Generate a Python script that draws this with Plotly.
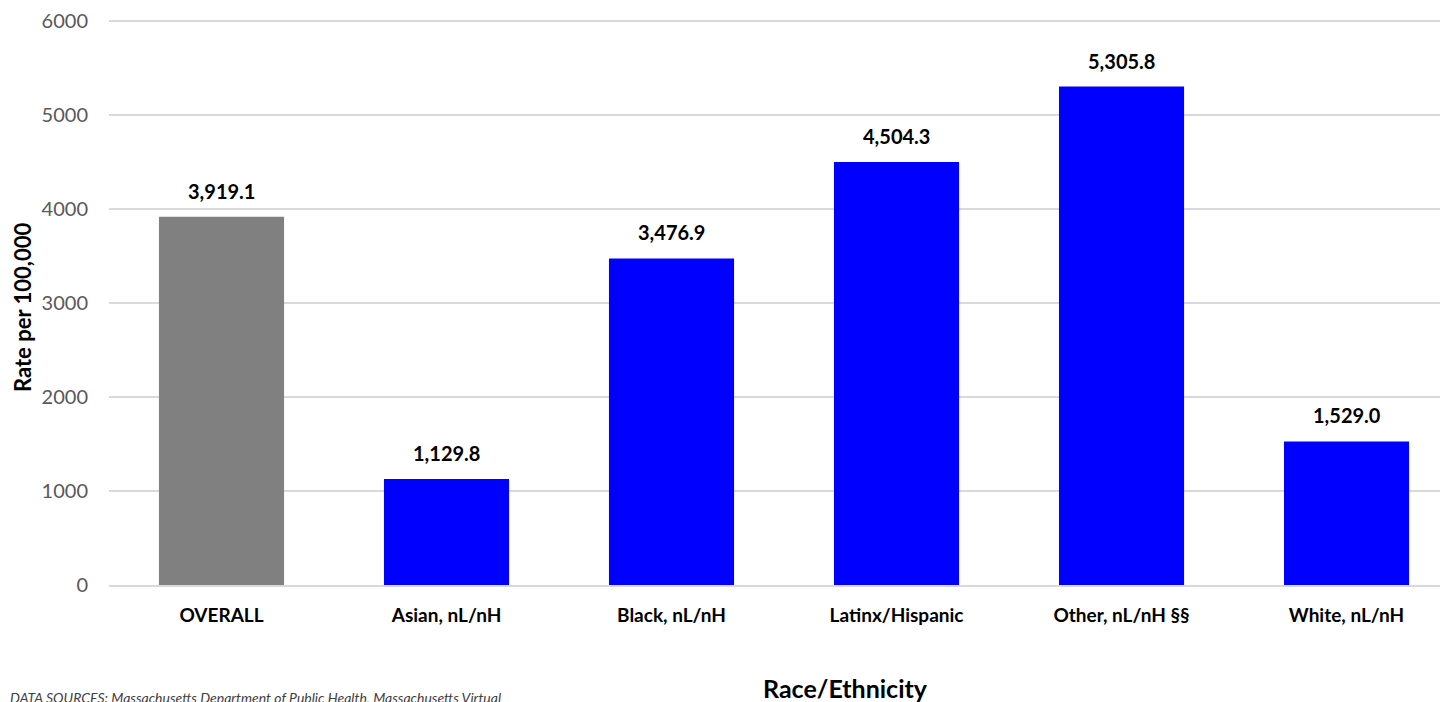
import plotly.graph_objects as go

categories = ["OVERALL", "Asian, nL/nH", "Black, nL/nH", "Latinx/Hispanic", "Other, nL/nH §§", "White, nL/nH"]
values = [3919.1, 1129.8, 3476.9, 4504.3, 5305.8, 1529.0]
bar_colors = ["#808080", "#0000FF", "#0000FF", "#0000FF", "#0000FF", "#0000FF"]
value_labels = [f"{v:,.1f}" for v in values]
y_ticks = [0, 1000, 2000, 3000, 4000, 5000, 6000]

FONT = "Lato"

# browser body margin is 8px: figure is sized so that the page is exactly 1448x702
W, H = 1440, 694
L, T, PW, PH = 101, 12, 1339, 565

fig = go.Figure(
    go.Bar(
        x=categories,
        y=values,
        marker=dict(color=bar_colors, line=dict(width=0)),
        hoverinfo="x+y",
    )
)

for c, v, lab in zip(categories, values, value_labels):
    fig.add_annotation(
        x=c, y=v, text=f"<b>{lab}</b>",
        showarrow=False, xanchor="center", yanchor="bottom", yshift=12,
        font=dict(family=FONT, size=20, color="#000000"),
    )

fig.update_layout(
    width=W,
    height=H,
    margin=dict(l=L, r=W - L - PW, t=T, b=H - T - PH, pad=0),
    paper_bgcolor="white",
    plot_bgcolor="white",
    bargap=0.444,
    showlegend=False,
    font=dict(family=FONT),
)

fig.update_yaxes(
    range=[0, 6015],
    tickvals=y_ticks,
    ticktext=[str(t) for t in y_ticks],
    tickfont=dict(family=FONT, size=20, color="#595959"),
    showgrid=True,
    gridcolor="#D9D9D9",
    gridwidth=1.5,
    zeroline=False,
    showline=False,
    ticks="",
    ticklabelstandoff=20,
)

fig.update_xaxes(
    range=[-0.5, 5.451],
    tickfont=dict(family=FONT, size=19, color="#000000", weight="bold"),
    showline=True,
    linecolor="#D9D9D9",
    linewidth=1.5,
    ticks="",
    ticklabelstandoff=12,
)

def px_x(p):
    return (p - 8 - L) / PW

def px_y(p):
    return (T + PH - (p - 8)) / PH

fig.add_annotation(
    text="<b>Rate per 100,000</b>",
    xref="paper", yref="paper",
    x=px_x(22), y=px_y(308),
    xanchor="center", yanchor="middle", textangle=-90,
    showarrow=False,
    font=dict(family=FONT, size=22, color="#000000"),
)

fig.add_annotation(
    text="<b>Race/Ethnicity</b>",
    xref="paper", yref="paper",
    x=px_x(845), y=px_y(688),
    xanchor="center", yanchor="middle",
    showarrow=False,
    font=dict(family=FONT, size=25, color="#000000"),
)

fig.add_annotation(
    text="<i>DATA SOURCES: Massachusetts Department of Public Health, Massachusetts Virtual</i>",
    xref="paper", yref="paper",
    x=px_x(8), y=px_y(697),
    xanchor="left", yanchor="middle",
    showarrow=False,
    font=dict(family=FONT, size=14, color="#404040"),
)

fig.write_html("out.html")
